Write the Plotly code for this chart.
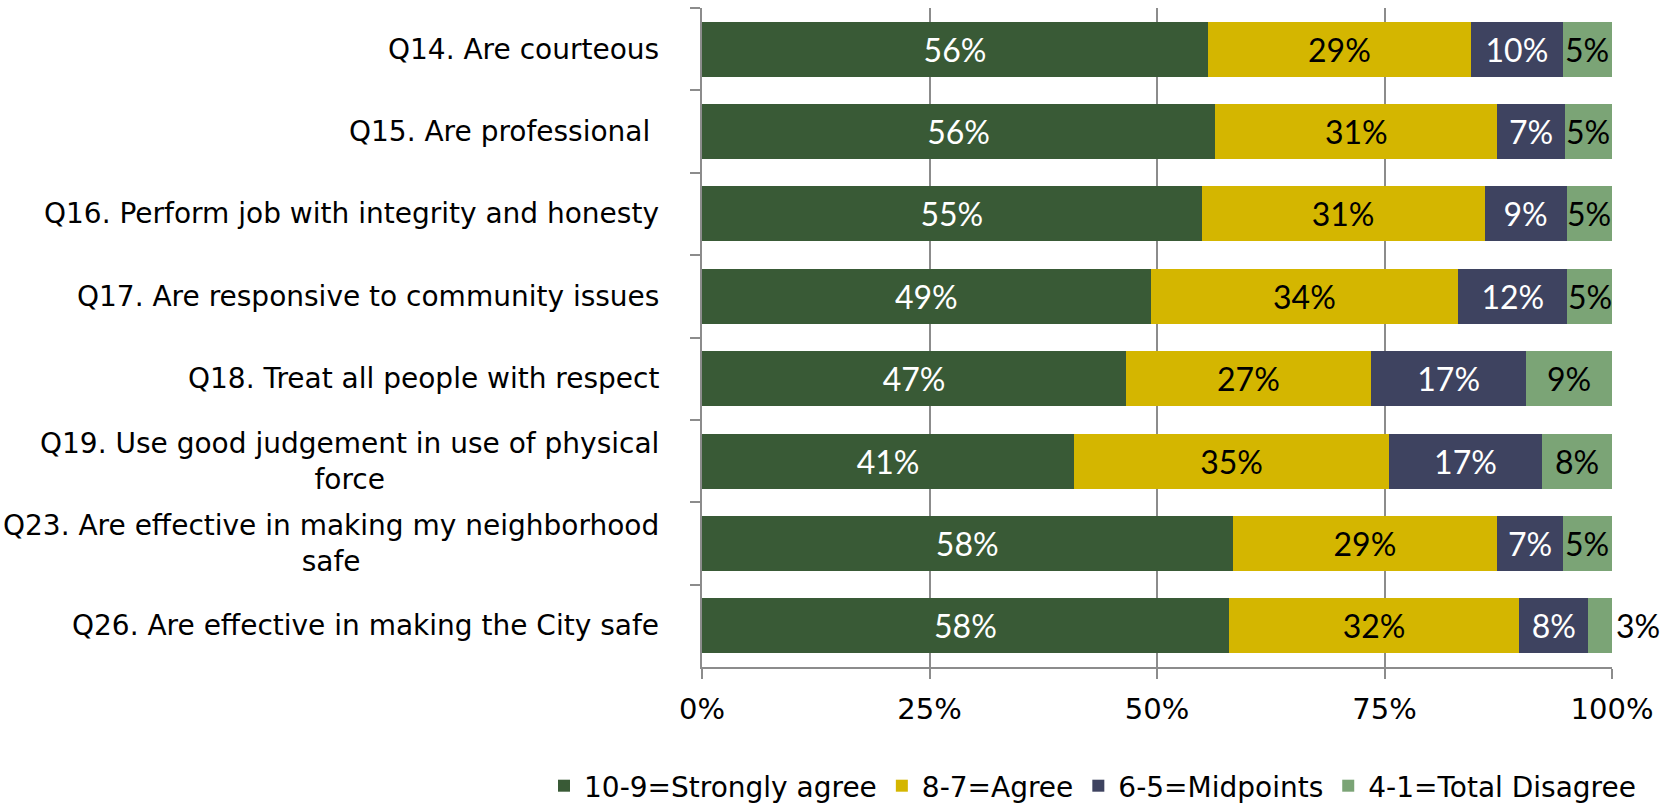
import plotly.graph_objects as go

# Survey items, top to bottom
questions = [
    "Q14. Are courteous",
    "Q15. Are professional\u00a0",
    "Q16. Perform job with integrity and honesty",
    "Q17. Are responsive to community issues",
    "Q18. Treat all people with respect",
    "Q19. Use good judgement in use of physical<br>force",
    "Q23. Are effective in making my neighborhood<br>safe",
    "Q26. Are effective in making the City safe",
]

# Share of responses per rating band (%)
strongly_agree = [55.6, 56.4, 54.9, 49.3, 46.6, 40.9, 58.3, 57.9]
agree = [28.9, 31.0, 31.1, 33.8, 26.9, 34.6, 29.1, 31.9]
midpoints = [10.1, 7.4, 9.0, 12.0, 17.1, 16.8, 7.2, 7.6]
total_disagree = [5.4, 5.2, 5.0, 4.9, 9.4, 7.7, 5.4, 2.6]

series_names = ["10-9=Strongly agree", "8-7=Agree", "6-5=Midpoints", "4-1=Total Disagree"]
x_ticks = [0, 25, 50, 75, 100]

colors = ["#395a36", "#d4b600", "#3e4360", "#7ba476"]
text_colors = ["white", "black", "white", "black"]

W, H = 1677, 803
L, R, T, B = 702, 65, 8, 136
PW, PH = W - L - R, H - T - B

label_font = "DejaVu Sans, sans-serif"
value_font = "Lato, sans-serif"
VALUE_SIZE = 32

fig = go.Figure()
all_series = [strongly_agree, agree, midpoints, total_disagree]
for i, (name, vals, col, tcol) in enumerate(zip(series_names, all_series, colors, text_colors)):
    last = i == len(series_names) - 1
    fig.add_trace(go.Bar(
        y=questions, x=vals, name=name, orientation="h",
        marker=dict(color=col, line=dict(width=0)),
        texttemplate="%{x:.0f}%", textposition="none" if last else "inside",
        insidetextanchor="middle", textangle=0, constraintext="none",
        insidetextfont=dict(family=value_font, size=VALUE_SIZE, color=tcol),
        cliponaxis=False, hoverinfo="skip",
    ))

# Value labels of the narrow last segment, allowed to spill past the bar
for k, q in enumerate(questions):
    start = strongly_agree[k] + agree[k] + midpoints[k]
    v = total_disagree[k]
    narrow = v < 4
    fig.add_annotation(
        x=start + v if narrow else start + v / 2, xref="x", y=q, yref="y",
        text=f"{v:.0f}%", showarrow=False,
        xanchor="left" if narrow else "center", yanchor="middle", xshift=2 if narrow else 0,
        font=dict(family=value_font, size=VALUE_SIZE, color="black"),
    )

# Category labels, centred when wrapped onto two lines
for q in questions:
    fig.add_annotation(
        x=-(L - 661) / PW, xref="paper", y=q, yref="y",
        text=q, showarrow=False, xanchor="right", yanchor="middle",
        align="center", font=dict(family=label_font, size=28, color="black"),
    )

fig.update_layout(
    width=W, height=H,
    margin=dict(l=L, r=R, t=T, b=B, pad=0, autoexpand=False),
    paper_bgcolor="white", plot_bgcolor="white",
    barmode="stack", bargap=0.333,
    showlegend=True,
    legend=dict(
        orientation="h", xref="paper", yref="paper",
        x=(544 - L) / PW, xanchor="left",
        y=-(786 - (H - B)) / PH, yanchor="middle",
        font=dict(family=label_font, size=28, color="black"),
        itemwidth=30, traceorder="normal", tracegroupgap=0,
        borderwidth=0, bgcolor="rgba(0,0,0,0)",
    ),
    xaxis=dict(
        range=[0, 100], tickvals=x_ticks, ticktext=[f"{v}%" for v in x_ticks],
        showgrid=True, gridcolor="#8c8c8c", gridwidth=1.5,
        showline=True, linecolor="#8c8c8c", linewidth=1.5,
        ticks="outside", ticklen=10, tickcolor="#8c8c8c", tickwidth=1.5,
        ticklabelstandoff=5,
        tickfont=dict(family=label_font, size=29, color="black"),
        zeroline=False, fixedrange=True, automargin=False,
    ),
    yaxis=dict(
        autorange="reversed", showticklabels=False, showgrid=False,
        showline=True, linecolor="#8c8c8c", linewidth=1.5,
        ticks="outside", tickson="boundaries", ticklen=10,
        tickcolor="#8c8c8c", tickwidth=1.5, fixedrange=True, automargin=False,
    ),
)

fig.write_html("out.html")
